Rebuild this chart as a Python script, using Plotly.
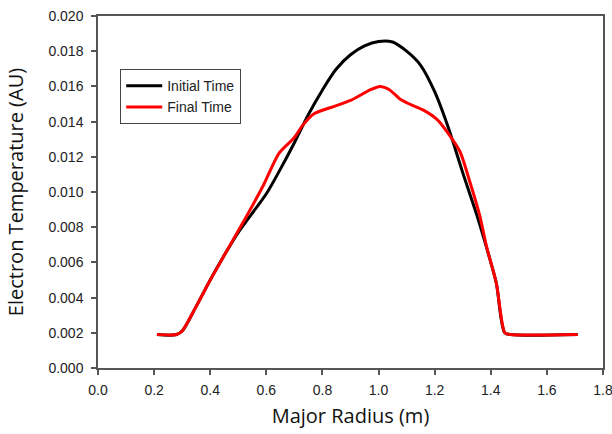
import plotly.graph_objects as go

# Initial Time (black)
x_initial = [0.21, 0.28, 0.30, 0.35, 0.40, 0.45, 0.50, 0.55, 0.60, 0.65, 0.70, 0.75, 0.80,
             0.85, 0.90, 0.95, 1.00, 1.05, 1.10, 1.15, 1.20, 1.25, 1.30, 1.35, 1.40, 1.42,
             1.45, 1.47, 1.71]
y_initial = [0.0019, 0.0019, 0.0021, 0.0035, 0.0050, 0.0064, 0.0077, 0.0088, 0.0099, 0.0113,
             0.0128, 0.0144, 0.0158, 0.0170, 0.0178, 0.0183, 0.01855, 0.01852, 0.0180, 0.0172,
             0.0157, 0.0136, 0.0111, 0.0087, 0.0060, 0.0048, 0.0020, 0.0019, 0.0019]

# Final Time (red)
x_final = [0.21, 0.28, 0.30, 0.35, 0.40, 0.45, 0.50, 0.525, 0.59, 0.645, 0.70, 0.73, 0.77,
           0.83, 0.90, 0.97, 1.005, 1.04, 1.075, 1.11, 1.16, 1.21, 1.245, 1.29, 1.325, 1.36,
           1.385, 1.42, 1.45, 1.47, 1.71]
y_final = [0.0019, 0.0019, 0.0021, 0.0035, 0.0050, 0.0064, 0.0078, 0.0085, 0.0104, 0.0122,
           0.0131, 0.0138, 0.01445, 0.0148, 0.0152, 0.0158, 0.0160, 0.0158, 0.0153, 0.0150,
           0.01465, 0.0141, 0.0134, 0.0123, 0.0106, 0.0087, 0.0069, 0.0048, 0.0020,
           0.0019, 0.0019]

series_names = ["Initial Time", "Final Time"]
x_ticks = [0.0, 0.2, 0.4, 0.6, 0.8, 1.0, 1.2, 1.4, 1.6, 1.8]
y_ticks = [0.000, 0.002, 0.004, 0.006, 0.008, 0.010, 0.012, 0.014, 0.016, 0.018, 0.020]

fig = go.Figure()
fig.add_trace(go.Scatter(x=x_initial, y=y_initial, mode="lines", name=series_names[0],
                         line=dict(color="black", width=3, shape="spline", smoothing=0.9)))
fig.add_trace(go.Scatter(x=x_final, y=y_final, mode="lines", name=series_names[1],
                         line=dict(color="#ff0000", width=3, shape="spline", smoothing=0.7)))

tick_font = dict(family="Liberation Sans, Arial", size=14, color="#222")
title_font = dict(family="Open Sans", size=20, color="#111")

fig.update_layout(
    width=612, height=434,
    margin=dict(l=98, r=9, t=16, b=66),
    paper_bgcolor="white", plot_bgcolor="white",
    showlegend=True,
    legend=dict(x=0.044, y=0.849, xanchor="left", yanchor="top",
                bgcolor="white", bordercolor="#444", borderwidth=1,
                font=dict(family="Liberation Sans, Arial", size=14, color="#222"),
                itemwidth=36, tracegroupgap=0),
    xaxis=dict(range=[0, 1.8], tickvals=x_ticks, ticktext=[f"{v:.1f}" for v in x_ticks],
               showgrid=False, zeroline=False, showline=True, linecolor="#555", linewidth=1.5,
               mirror=True, ticks="outside", ticklen=5, tickcolor="#555", tickwidth=1.5,
               tickfont=tick_font, automargin=False, ticklabelstandoff=3,
               ticklabeloverflow="allow",
               title=dict(text="Major Radius (m)", font=title_font, standoff=12)),
    yaxis=dict(range=[0, 0.020], tickvals=y_ticks, ticktext=[f"{v:.3f}" for v in y_ticks],
               showgrid=False, zeroline=False, showline=True, linecolor="#555", linewidth=1.5,
               mirror=True, ticks="outside", ticklen=5, tickcolor="#555", tickwidth=1.5,
               tickfont=tick_font, automargin=False, ticklabelstandoff=5,
               ticklabeloverflow="allow",
               title=dict(text="Electron Temperature (AU)", font=title_font, standoff=19)),
)

fig.write_html("out.html", config={"displayModeBar": False},
               post_script="document.body.style.margin='0';")
